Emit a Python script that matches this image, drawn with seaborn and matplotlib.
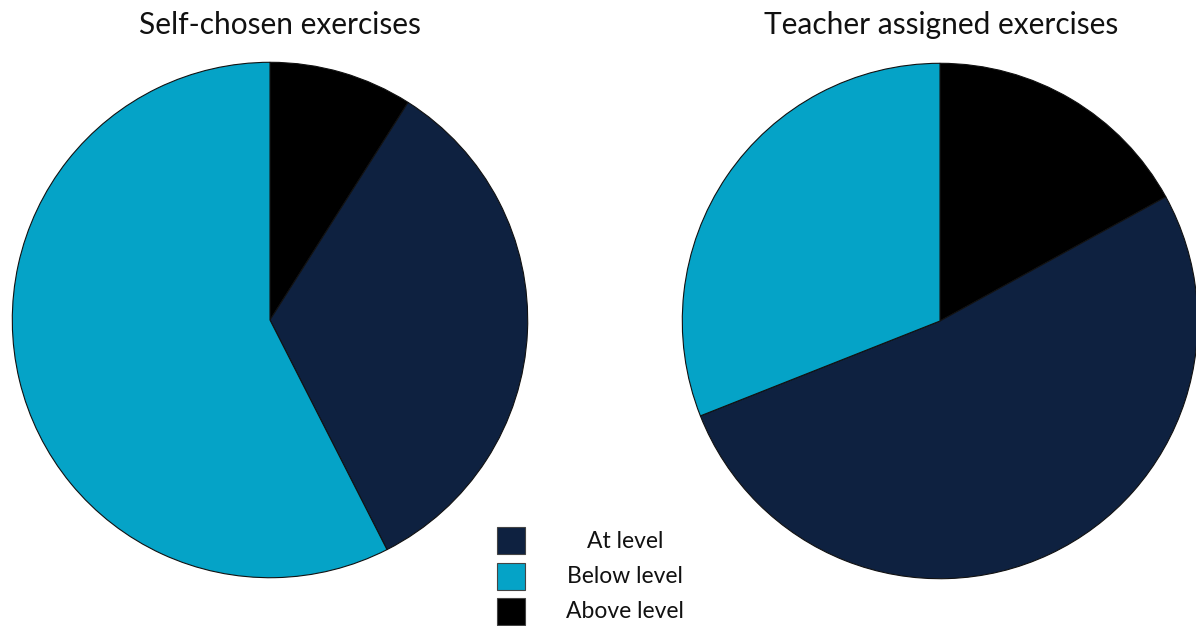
import matplotlib
matplotlib.use("Agg")
import matplotlib.pyplot as plt
import seaborn as sns
from matplotlib.patches import Rectangle

sns.set_theme(style="white")
plt.rcParams["font.family"] = ["Lato", "DejaVu Sans"]

# Share of exercises by difficulty (%)
categories = ["Above level", "At level", "Below level"]
self_chosen = [9, 33.5, 57.5]
teacher_assigned = [17, 52, 31]
titles = ["Self-chosen exercises", "Teacher assigned exercises"]
legend_order = ["At level", "Below level", "Above level"]

colors = {"At level": "#0E2140", "Below level": "#05A3C7", "Above level": "#000000"}

W, H = 1196, 626
fig = plt.figure(figsize=(W / 100, H / 100), dpi=100)


def pie_axes(cx, cy, r):
    # pixel centre/radius (top-origin) -> figure fraction
    return fig.add_axes([(cx - r) / W, (H - cy - r) / H, 2 * r / W, 2 * r / H])


# (centre x, centre y, radius, title x) in pixels
layout = [(270, 320, 259, 280), (940, 321, 259, 941)]

for (cx, cy, r, tx), vals, title in zip(layout, [self_chosen, teacher_assigned], titles):
    ax = pie_axes(cx, cy, r)
    ax.pie(vals, colors=[colors[c] for c in categories], startangle=90,
           counterclock=False, radius=1,
           wedgeprops={"edgecolor": "#111111", "linewidth": 0.8})
    ax.set_xlim(-1.005, 1.005)
    ax.set_ylim(-1.005, 1.005)
    ax.set_aspect("equal")
    ax.axis("off")
    fig.text(tx / W, 1 - 25 / H, title, ha="center", va="center",
             fontsize=21.5, color="#111111")

# Legend drawn by hand: squares with centred labels
for i, lab in enumerate(legend_order):
    y_top = 527 + i * 35.5
    fig.patches.append(Rectangle((497 / W, 1 - (y_top + 27) / H), 28 / W, 27 / H,
                                 transform=fig.transFigure, facecolor=colors[lab],
                                 edgecolor="#444444", linewidth=0.8))
    fig.text(625 / W, 1 - (y_top + 14) / H, lab, ha="center", va="center",
             fontsize=16.5, color="#111111")

fig.savefig("out.png", dpi=100)
